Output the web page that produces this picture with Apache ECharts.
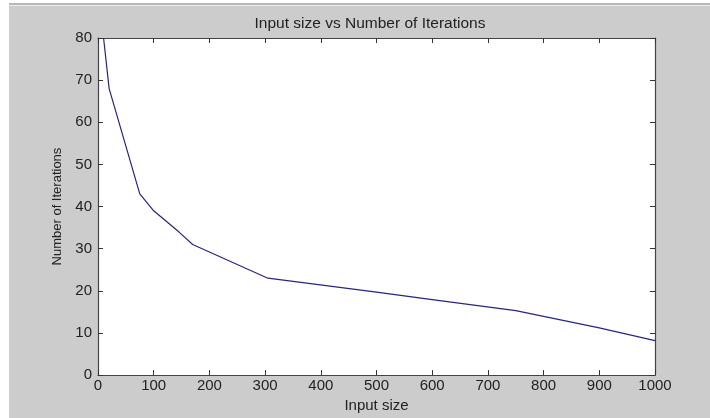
<!DOCTYPE html>
<html>
<head>
<meta charset="utf-8">
<script src="https://cdn.jsdelivr.net/npm/echarts@6/dist/echarts.min.js"></script>
<style>
html,body{margin:0;padding:0;background:#fff;}
#chart{width:710px;height:418px;}
</style>
</head>
<body>
<div id="chart"></div>
<script>
var inputSize = [10, 20, 75, 100, 145, 170, 305, 500, 600, 750, 900, 1000];
var iterations = [80, 68, 43, 39, 34, 31, 23, 19.7, 17.9, 15.3, 11.2, 8.2];
var titleText = 'Input size vs Number of Iterations';
var xName = 'Input size';
var yName = 'Number of Iterations';

var chart = echarts.init(document.getElementById('chart'));
var pts = inputSize.map(function (x, i) { return [x, iterations[i]]; });
var axisLineStyle = { color: '#444', width: 1.2 };
var tickStyle = { show: true, inside: true, length: 5, lineStyle: { color: '#333', width: 1 } };
var font = 'Liberation Sans, Arial, sans-serif';
var plain = function (v) { return String(v); };

chart.setOption({
  animation: false,
  backgroundColor: '#ffffff',
  graphic: [
    { type: 'rect', shape: { x: 9, y: 3, width: 701, height: 415 }, style: { fill: '#cccccc' }, z: -10, silent: true },
    { type: 'line', shape: { x1: 9, y1: 4, x2: 710, y2: 4 }, style: { stroke: '#a0a0a0', lineWidth: 1 }, z: -9, silent: true },
    { type: 'line', shape: { x1: 9, y1: 5.5, x2: 710, y2: 5.5 }, style: { stroke: '#eeeeee', lineWidth: 1 }, z: -9, silent: true }
  ],
  title: {
    text: titleText,
    left: 370,
    top: 16,
    textAlign: 'center',
    padding: 0,
    textStyle: { fontFamily: font, fontSize: 15.5, fontWeight: 'normal', color: '#222' }
  },
  grid: { left: 98, right: 55, top: 38, bottom: 41, show: true, backgroundColor: '#ffffff', borderWidth: 0 },
  xAxis: [
    {
      type: 'value', min: 0, max: 1000, interval: 100, position: 'bottom',
      name: xName, nameLocation: 'middle', nameGap: 20,
      nameTextStyle: { fontFamily: font, fontSize: 15, color: '#222' },
      axisLine: { show: true, onZero: false, lineStyle: axisLineStyle },
      axisTick: tickStyle,
      axisLabel: { fontFamily: font, fontSize: 15, color: '#222', margin: 3, formatter: plain },
      splitLine: { show: false }
    },
    {
      type: 'value', min: 0, max: 1000, interval: 100, position: 'top',
      axisLine: { show: true, onZero: false, lineStyle: axisLineStyle },
      axisTick: tickStyle,
      axisLabel: { show: false },
      splitLine: { show: false }
    }
  ],
  yAxis: [
    {
      type: 'value', min: 0, max: 80, interval: 10, position: 'left',
      name: yName, nameLocation: 'middle', nameGap: 29, nameRotate: 90,
      nameTextStyle: { fontFamily: font, fontSize: 13, color: '#222' },
      axisLine: { show: true, onZero: false, lineStyle: axisLineStyle },
      axisTick: tickStyle,
      axisLabel: { fontFamily: font, fontSize: 15, color: '#222', margin: 6, formatter: plain },
      splitLine: { show: false }
    },
    {
      type: 'value', min: 0, max: 80, interval: 10, position: 'right',
      axisLine: { show: true, onZero: false, lineStyle: axisLineStyle },
      axisTick: tickStyle,
      axisLabel: { show: false },
      splitLine: { show: false }
    }
  ],
  series: [{
    type: 'line',
    xAxisIndex: 0,
    yAxisIndex: 0,
    data: pts,
    showSymbol: false,
    symbol: 'none',
    clip: true,
    lineStyle: { color: '#26267f', width: 1.2 }
  }]
});
</script>
</body>
</html>
